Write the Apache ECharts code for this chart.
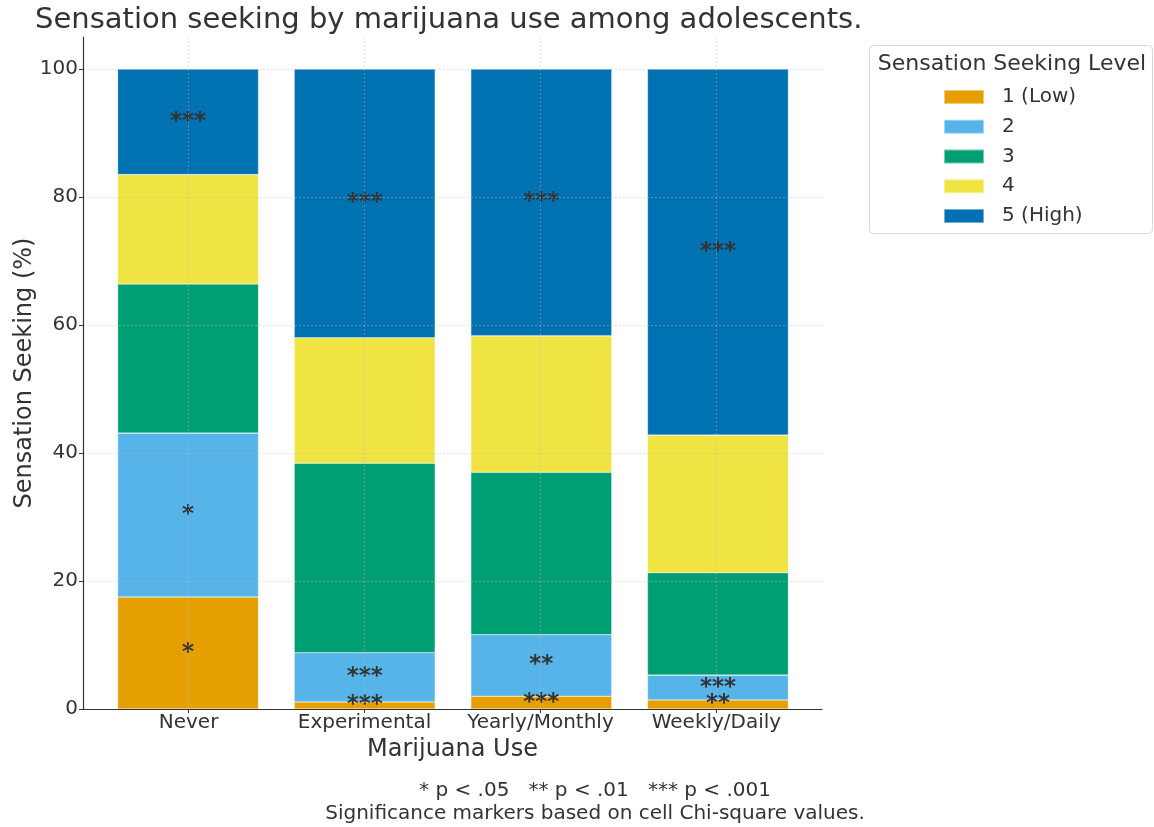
<!DOCTYPE html>
<html>
<head>
<meta charset="utf-8">
<script src="https://cdn.jsdelivr.net/npm/echarts@6/dist/echarts.min.js"></script>
<style>
  html, body { margin: 0; padding: 0; background: #fff; }
  #chart { width: 1154px; height: 827px; }
</style>
</head>
<body>
<div id="chart"></div>
<script>
// Marijuana use groups (x axis)
const categories = ['Never', 'Experimental', 'Yearly/Monthly', 'Weekly/Daily'];

// Sensation seeking level shares (% of each group)
const levelNames = ['1 (Low)', '2', '3', '4', '5 (High)'];
const level1 = [17.5, 1.1, 2.0, 1.4];
const level2 = [25.6, 7.7, 9.6, 3.9];
const level3 = [23.3, 29.6, 25.4, 16.0];
const level4 = [17.1, 19.6, 21.3, 21.5];
const level5 = [16.5, 42.0, 41.7, 57.2];

// Significance markers per cell (cell chi-square)
const marks1 = ['*', '***', '***', '**'];
const marks2 = ['*', '***', '**', '***'];
const marks3 = ['', '', '', ''];
const marks4 = ['', '', '', ''];
const marks5 = ['***', '***', '***', '***'];

const yTicks = [0, 20, 40, 60, 80, 100];
const xTicks = [0, 1, 2, 3];

const colors = ['#E69F00', '#56B4E9', '#009E73', '#F0E442', '#0072B2'];
const levels = [level1, level2, level3, level4, level5];
const marks = [marks1, marks2, marks3, marks4, marks5];

const FONT = 'DejaVu Sans';
const TEXT = '#333333';
const GRIDLINE = { color: 'rgba(185,185,185,0.55)', type: [2, 2], width: 0.8 };

const chart = echarts.init(document.getElementById('chart'), null, { renderer: 'canvas' });

// Stacked bars live on a category axis (grid 0); the visible frame,
// ticks, labels and gridlines sit on a padded axis in grid 1 (x from -0.6 to 3.6).
const series = levels.map((vals, s) => ({
  name: levelNames[s],
  type: 'bar',
  stack: 'total',
  xAxisIndex: 0,
  yAxisIndex: 0,
  barWidth: 141,
  itemStyle: { color: colors[s], borderColor: 'rgba(255,255,255,0.45)', borderWidth: 0.6 },
  label: {
    show: true,
    position: 'inside',
    fontFamily: FONT,
    fontSize: 23,
    fontWeight: 'bold',
    color: TEXT,
    formatter: p => marks[s][p.dataIndex]
  },
  emphasis: { disabled: true },
  data: vals
}));

chart.setOption({
  animation: false,
  textStyle: { fontFamily: FONT },
  title: [
    {
      text: 'Sensation seeking by marijuana use among adolescents.',
      left: 30, top: 1,
      textStyle: { fontFamily: FONT, fontSize: 29, fontWeight: 'normal', color: TEXT }
    },
    {
      text: '* p < .05   ** p < .01   *** p < .001\nSignificance markers based on cell Chi-square values.',
      left: 590, top: 774, textAlign: 'center',
      textStyle: { fontFamily: FONT, fontSize: 20, fontWeight: 'normal', color: TEXT, lineHeight: 23, align: 'center' }
    }
  ],
  graphic: [
    {
      type: 'rect',
      shape: { x: 869.5, y: 45.5, width: 283, height: 188, r: 4 },
      style: { fill: '#fff', stroke: '#d8d8d8', lineWidth: 1 },
      z: 0
    },
    {
      type: 'text',
      x: 1012, y: 64,
      style: { text: 'Sensation Seeking Level', font: '22px "DejaVu Sans"', fill: TEXT, textAlign: 'center', textVerticalAlign: 'middle' },
      z: 1
    }
  ],
  legend: {
    orient: 'vertical',
    left: 943, top: 87,
    padding: 0,
    itemWidth: 40, itemHeight: 14,
    itemGap: 9.75,
    icon: 'rect',
    selectedMode: false,
    textStyle: { fontFamily: FONT, fontSize: 20, color: TEXT, lineHeight: 20, padding: [0, 0, 0, 13] },
    data: levelNames,
    z: 5
  },
  grid: [
    { left: 99.75, right: 347.75, top: 37, bottom: 118, containLabel: false },
    { left: 83, right: 332, top: 37, bottom: 118, containLabel: false }
  ],
  xAxis: [
    {
      type: 'category',
      gridIndex: 0,
      data: categories,
      boundaryGap: true,
      show: false
    },
    {
      type: 'value',
      gridIndex: 1,
      min: -0.6, max: 3.6,
      z: 3,
      name: 'Marijuana Use',
      nameLocation: 'middle',
      nameGap: 21,
      nameTextStyle: { fontFamily: FONT, fontSize: 24, color: TEXT },
      axisLine: { show: true, onZero: false, lineStyle: { color: '#333', width: 1.2 } },
      axisTick: { show: true, length: 4, customValues: xTicks, lineStyle: { color: '#333' } },
      axisLabel: {
        customValues: xTicks,
        formatter: v => categories[Math.round(v)],
        fontFamily: FONT, fontSize: 20, color: TEXT, margin: 4
      },
      splitLine: { show: true, lineStyle: GRIDLINE }
    }
  ],
  yAxis: [
    {
      type: 'value',
      gridIndex: 0,
      min: 0, max: 105,
      show: false,
      splitLine: { show: false }
    },
    {
      type: 'value',
      gridIndex: 1,
      min: 0, max: 105,
      z: 3,
      name: 'Sensation Seeking (%)',
      nameLocation: 'middle',
      nameMoveOverlap: false,
      nameGap: 46,
      nameTextStyle: { fontFamily: FONT, fontSize: 24, color: TEXT },
      axisLine: { show: true, onZero: false, lineStyle: { color: '#333', width: 1.2 } },
      axisTick: { show: true, length: 4, customValues: yTicks, lineStyle: { color: '#333' } },
      axisLabel: { customValues: yTicks, fontFamily: FONT, fontSize: 20, color: TEXT, margin: 5 },
      splitLine: { show: true, lineStyle: GRIDLINE }
    }
  ],
  series: series
});
</script>
</body>
</html>
